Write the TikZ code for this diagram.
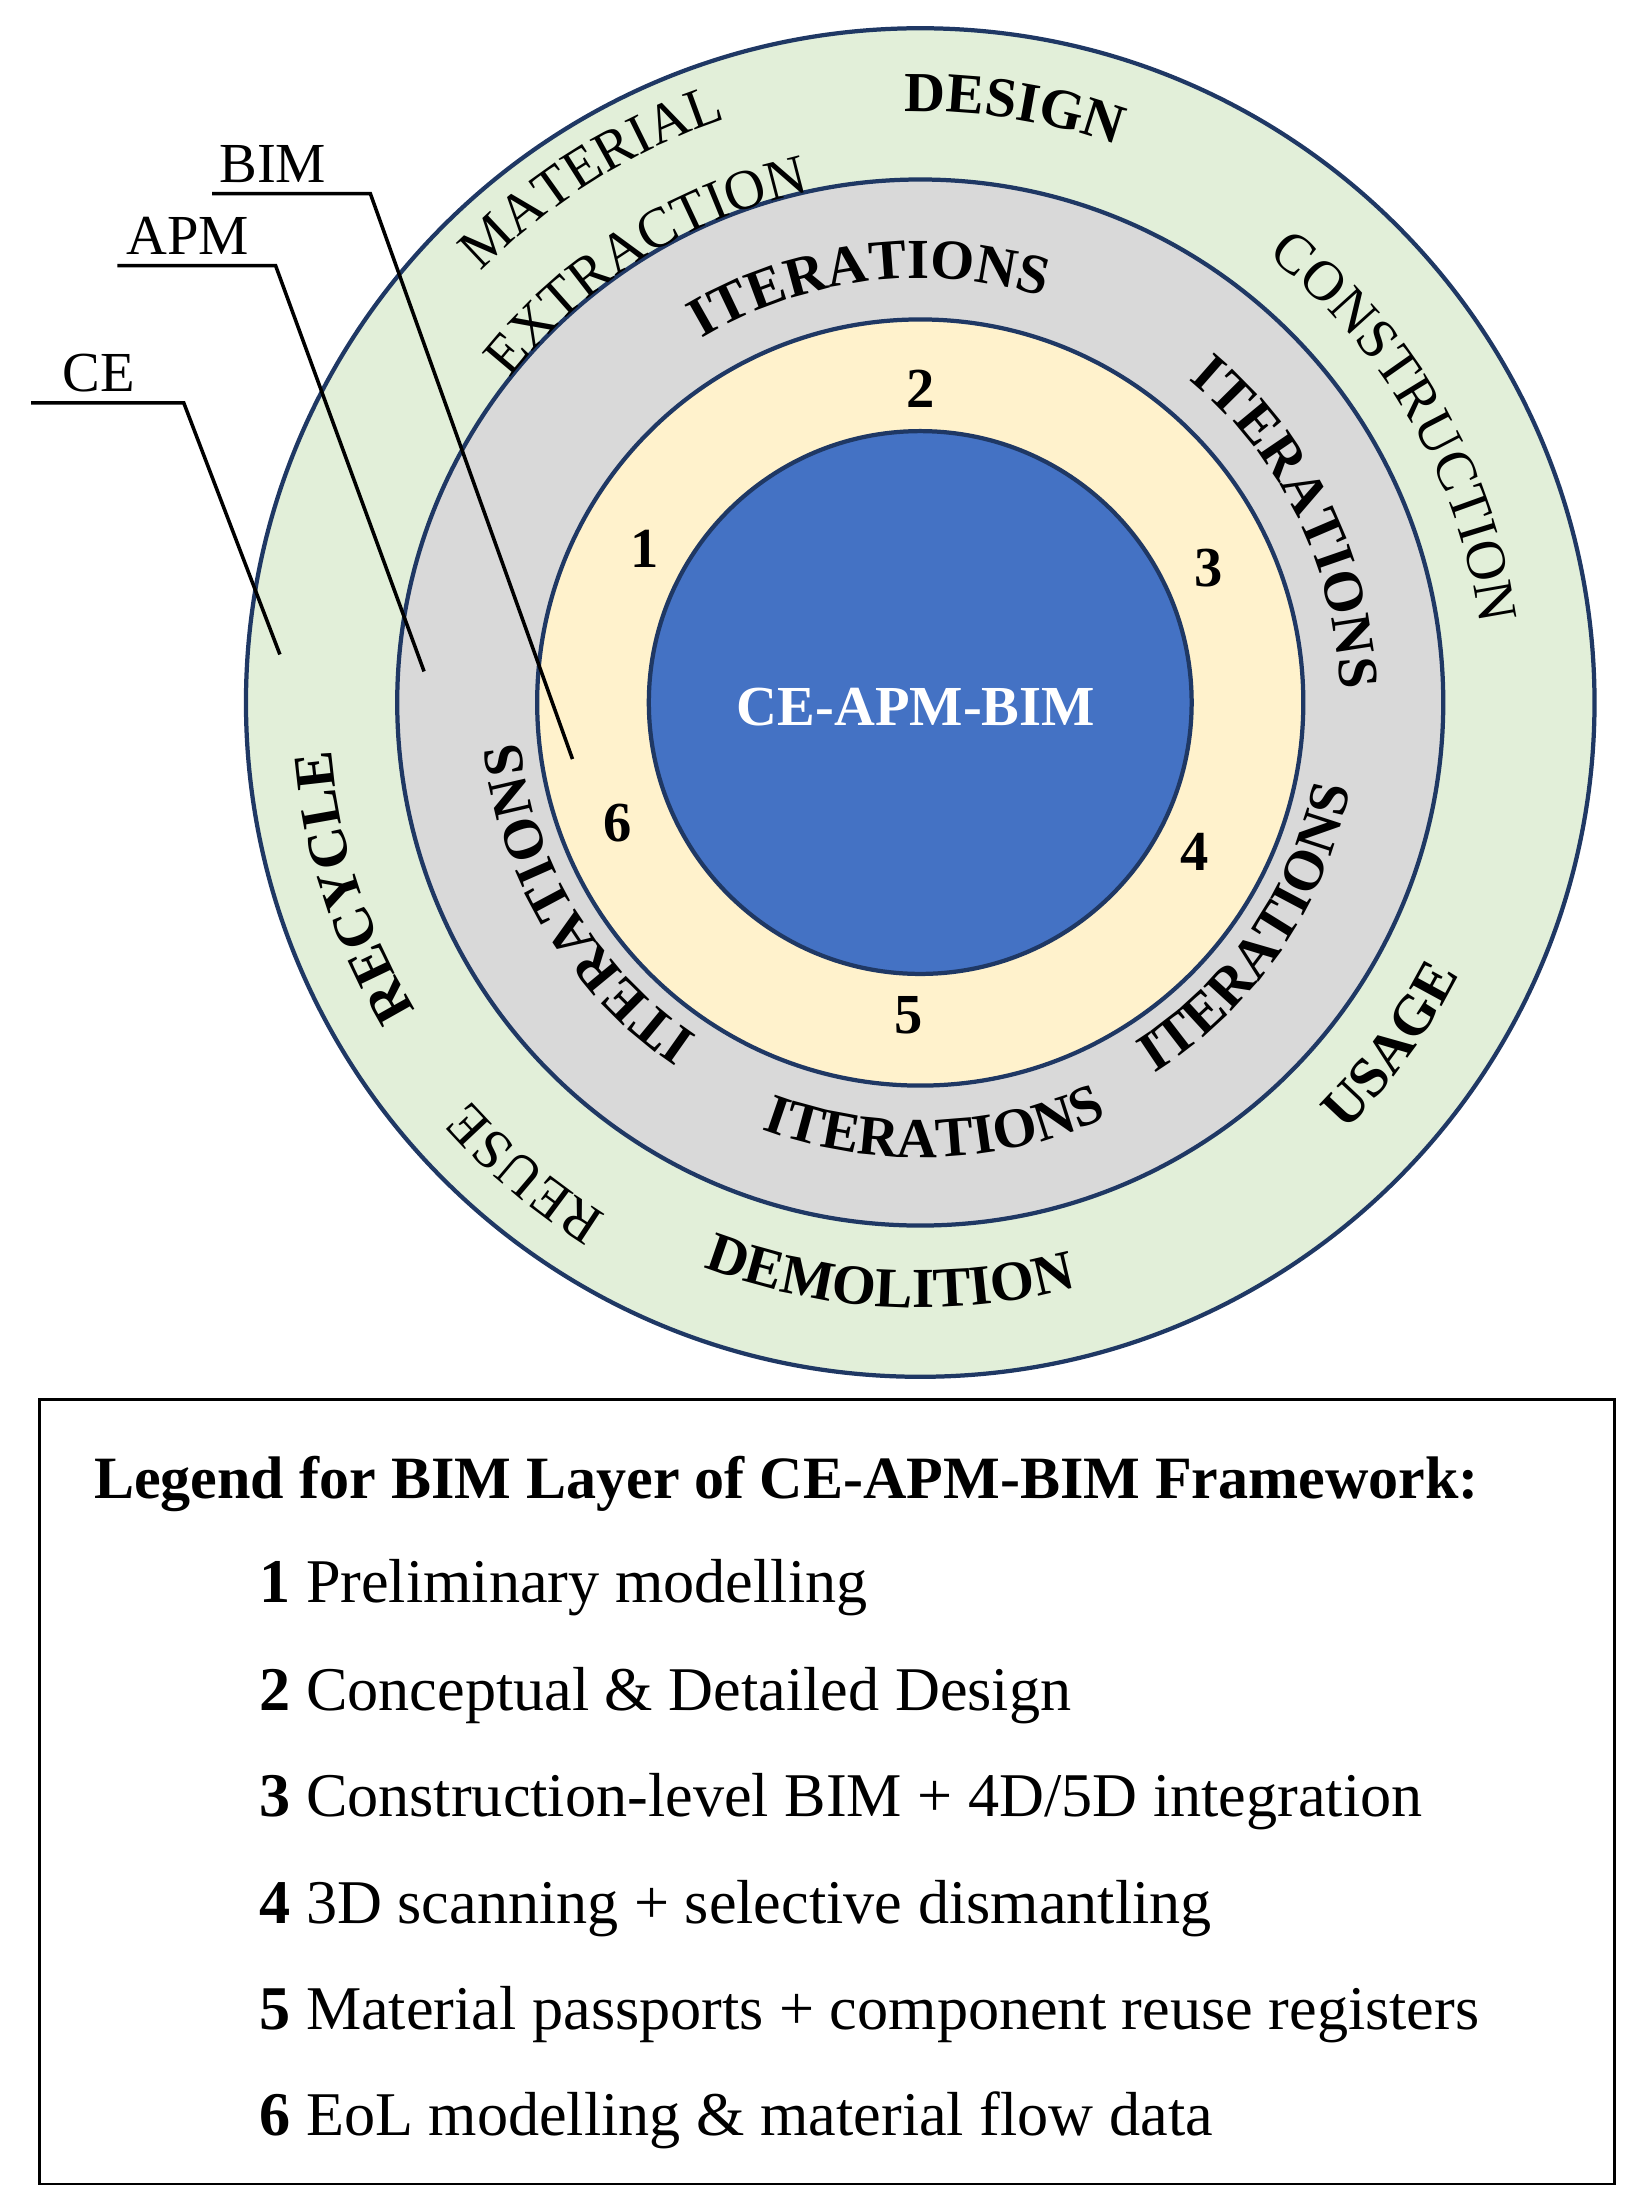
\documentclass[tikz,border=0pt]{standalone}
\usepackage{fontspec}
\setmainfont{Liberation Serif}
\usetikzlibrary{decorations.text}
\definecolor{ringgreen}{HTML}{E2EFD9}
\definecolor{ringgray}{HTML}{D9D9D9}
\definecolor{ringcream}{HTML}{FFF2CC}
\definecolor{coreblue}{HTML}{4472C4}
\definecolor{edge}{HTML}{1F3864}
\newcommand{\rf}{\fontsize{40}{40}\selectfont}
\newcommand{\rfb}{\bfseries\fontsize{40}{40}\selectfont}
\begin{document}
\begin{tikzpicture}[x=1pt,y=1pt,
  ring/.style={draw=edge,line width=3pt},
  num/.style={font=\bfseries\fontsize{40}{40}\selectfont},
  lead/.style={line width=2.5pt,black},
  leadlab/.style={font=\fontsize{40}{40}\selectfont,anchor=base},
  leg/.style={font=\fontsize{44}{44}\selectfont,anchor=base west}]
\useasboundingbox (0,0) rectangle (1163,1562);
\coordinate (c) at (651,1065);
\fill[ringgreen] (c) circle (477);
\draw[ring] (c) circle (477);
\fill[ringgray] (c) circle (370);
\draw[ring] (c) circle (370);
\fill[ringcream] (c) circle (271);
\draw[ring] (c) circle (271);
\fill[coreblue] (c) circle (192);
\draw[ring] (c) circle (192);
\node[font=\bfseries\fontsize{40}{40}\selectfont,text=white] (core) at (648,1062) {CE-APM-BIM};
% curved labels: clockwise (tops outward)
\path[decorate,decoration={text along path,text align=center,text={|\rfb|DESIGN}}]
  ([shift={(121:418)}]c) arc[start angle=121,end angle=41,radius=418];
\path[decorate,decoration={text along path,text align=center,text={|\rf|MATERIAL}}]
  ([shift={(162:435)}]c) arc[start angle=162,end angle=82,radius=435];
\path[decorate,decoration={text along path,text align=center,text={|\rf|EXTRACTION}}]
  ([shift={(162:370)}]c) arc[start angle=162,end angle=82,radius=370];
\path[decorate,decoration={text along path,text align=center,text={|\rf|CONSTRUCTION}}]
  ([shift={(80:400)}]c) arc[start angle=80,end angle=-20,radius=400];
\path[decorate,decoration={text along path,text align=center,text={|\rf|REUSE}}]
  ([shift={(-90:425)}]c) arc[start angle=-90,end angle=-170,radius=425];
\path[decorate,decoration={text along path,text align=center,text={|\rfb|RECYCLE}}]
  ([shift={(-122:418)}]c) arc[start angle=-122,end angle=-202,radius=418];
\path[decorate,decoration={text along path,text align=center,text={|\rfb|ITERATIONS}}]
  ([shift={(147:300)}]c) arc[start angle=147,end angle=47,radius=300];
\path[decorate,decoration={text along path,text align=center,text={|\rfb|ITERATIONS}}]
  ([shift={(76:297)}]c) arc[start angle=76,end angle=-24,radius=297];
\path[decorate,decoration={text along path,text align=center,text={|\rfb|ITERATIONS}}]
  ([shift={(-99:284)}]c) arc[start angle=-99,end angle=-199,radius=284];
% counterclockwise (tops inward)
\path[decorate,decoration={text along path,text align=center,text={|\rfb|USAGE}}]
  ([shift={(-76:427)}]c) arc[start angle=-76,end angle=4,radius=427];
\path[decorate,decoration={text along path,text align=center,text={|\rfb|DEMOLITION}}]
  ([shift={(-143:428)}]c) arc[start angle=-143,end angle=-43,radius=428];
\path[decorate,decoration={text along path,text align=center,text={|\rfb|ITERATIONS}}]
  ([shift={(-138:322)}]c) arc[start angle=-138,end angle=-38,radius=322];
\path[decorate,decoration={text along path,text align=center,text={|\rfb|ITERATIONS}}]
  ([shift={(-84:310)}]c) arc[start angle=-84,end angle=15,radius=310];
% numbers
\node[num] (n1) at (456,1174) {1};
\node[num] (n2) at (651,1287) {2};
\node[num] (n3) at (855,1160) {3};
\node[num] (n4) at (845,959) {4};
\node[num] (n5) at (643,844) {5};
\node[num] (n6) at (437,980) {6};
% leader lines
\coordinate (bimA) at (150,1425); \coordinate (bimB) at (262,1425); \coordinate (bimC) at (405,1025);
\coordinate (apmA) at (83,1374); \coordinate (apmB) at (195,1374); \coordinate (apmC) at (300,1087);
\coordinate (ceA) at (22,1277); \coordinate (ceB) at (130,1277); \coordinate (ceC) at (198,1099);
\draw[lead] (bimA) -- (bimB) -- (bimC);
\draw[lead] (apmA) -- (apmB) -- (apmC);
\draw[lead] (ceA) -- (ceB) -- (ceC);
\node[leadlab] (bimL) at (193,1433) {BIM};
\node[leadlab] (apmL) at (133,1382) {APM};
\node[leadlab] (ceL) at (70,1285) {CE};
% legend
\draw[line width=2pt] (28,17) rectangle (1142,572);
\node[leg,font=\bfseries\fontsize{42.5}{42.5}\selectfont] (lt) at (63,502) {Legend for BIM Layer of CE-APM-BIM Framework:};
\node[leg] (l1) at (180,428) {\textbf{1} Preliminary modelling};
\node[leg] (l2) at (180,352) {\textbf{2} Conceptual \& Detailed Design};
\node[leg] (l3) at (180,277) {\textbf{3} Construction-level BIM + 4D/5D integration};
\node[leg] (l4) at (180,201) {\textbf{4} 3D scanning + selective dismantling};
\node[leg] (l5) at (180,126) {\textbf{5} Material passports + component reuse registers};
\node[leg] (l6) at (180,51) {\textbf{6} EoL modelling \& material flow data};
\end{tikzpicture}
\end{document}
